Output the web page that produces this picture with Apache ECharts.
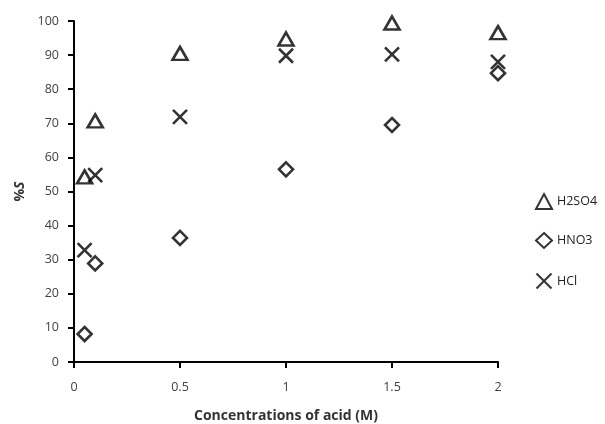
<!DOCTYPE html>
<html><head><meta charset="utf-8">
<script src="https://cdn.jsdelivr.net/npm/echarts@6/dist/echarts.min.js"></script>
<style>html,body{margin:0;padding:0;background:#fff}#c{width:605px;height:424px}</style>
</head><body><div id="c"></div>
<script>
const concentrations = [0.05, 0.1, 0.5, 1, 1.5, 2];
const h2so4 = [54.3, 70.7, 90.5, 94.7, 99.4, 96.6];
const hno3 = [8.2, 28.9, 36.4, 56.5, 69.5, 84.7];
const hcl = [32.8, 54.8, 71.9, 89.8, 90.2, 88.0];
const xTicks = [0, 0.5, 1, 1.5, 2];
const seriesNames = ['H2SO4', 'HNO3', 'HCl'];

const pts = v => concentrations.map((c, i) => [c, v[i]]);
const crossPath = 'path://M0,0L10,10M10,0L0,10';
const font = 'Open Sans, Liberation Sans, sans-serif';

const chart = echarts.init(document.getElementById('c'));
chart.setOption({
  animation: false,
  grid: {left: 74, top: 21, right: 107, bottom: 62, containLabel: false, outerBoundsMode: 'none'},
  legend: {
    orient: 'vertical', left: 529, top: 188, itemGap: 22,
    itemWidth: 16, itemHeight: 15,
    textStyle: {fontFamily: font, fontSize: 12.5, color: '#222'},
    data: seriesNames.map(n => ({name: n}))
  },
  xAxis: {
    type: 'value', min: 0, max: 2, interval: 0.5,
    axisLine: {lineStyle: {color: '#000', width: 2}},
    axisTick: {show: true, length: 6, lineStyle: {color: '#000', width: 2}},
    splitLine: {show: false},
    axisLabel: {fontFamily: font, fontSize: 12.5, color: '#404040', margin: 19,
      formatter: v => xTicks.includes(v) ? String(v) : ''},
    name: 'Concentrations of acid (M)', nameLocation: 'middle', nameGap: 47,
    nameTextStyle: {fontFamily: font, fontSize: 14, fontWeight: 'bold', color: '#333'}
  },
  yAxis: {
    type: 'value', min: 0, max: 100, interval: 10,
    axisLine: {show: true, lineStyle: {color: '#000', width: 2}},
    axisTick: {show: true, length: 6, lineStyle: {color: '#000', width: 2}},
    splitLine: {show: false},
    axisLabel: {fontFamily: font, fontSize: 12.5, color: '#404040', margin: 15},
    name: '{a|%}{b|S}', nameLocation: 'middle', nameGap: 46, nameRotate: 90,
    nameTextStyle: {
      rich: {
        a: {fontFamily: font, fontSize: 14, fontWeight: 'bold', color: '#333'},
        b: {fontFamily: font, fontSize: 14, fontWeight: 'bold', fontStyle: 'italic', color: '#333'}
      }
    }
  },
  series: [
    {name: seriesNames[0], type: 'scatter', data: pts(h2so4), symbol: 'triangle', symbolSize: [15, 13],
     itemStyle: {color: 'rgba(255,255,255,0)', borderColor: '#000', borderWidth: 2.6}},
    {name: seriesNames[1], type: 'scatter', data: pts(hno3), symbol: 'diamond', symbolSize: [14, 14],
     itemStyle: {color: 'rgba(255,255,255,0)', borderColor: '#000', borderWidth: 2.6}},
    {name: seriesNames[2], type: 'scatter', data: pts(hcl), symbol: crossPath, symbolSize: [14, 14],
     itemStyle: {color: 'none', borderColor: '#000', borderWidth: 2.6}}
  ]
});
</script></body></html>
